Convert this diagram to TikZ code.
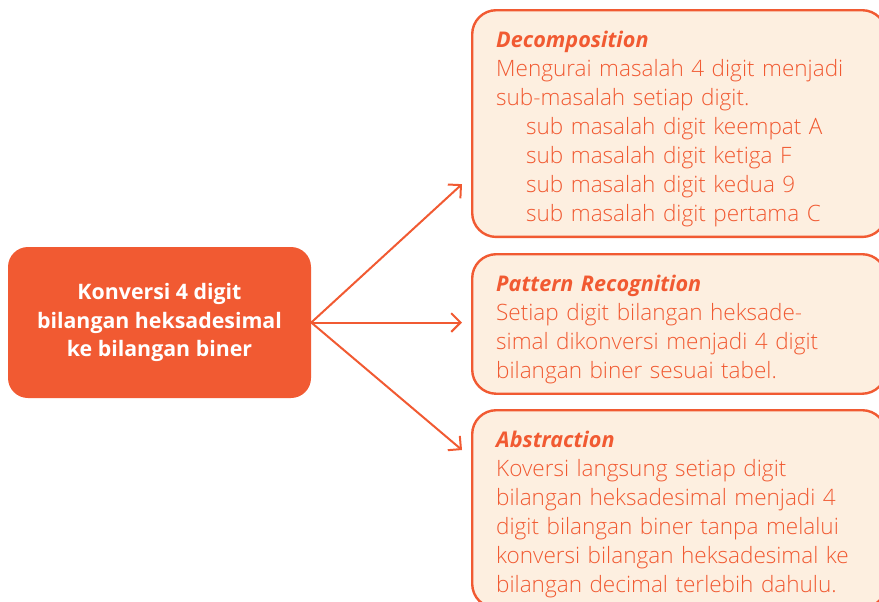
\documentclass[tikz,border=0pt]{standalone}
\usepackage{fontspec}
\setmainfont{Open Sans}
\IfFontExistsTF{Open Sans Light}
  {\newfontfamily\lightfont{Open Sans Light}}
  {\newcommand{\lightfont}{}}
\usepackage{tikz}
\usetikzlibrary{
  positioning,
  arrows.meta,
  calc
}
\definecolor{ctorange}{HTML}{F15A32}
\definecolor{ctpeach}{HTML}{FDEFE0}
\newcommand{\boxhead}[1]{\rule{0pt}{27.75pt}{\normalfont\fontsize{16.2}{21.8}\selectfont\bfseries\itshape #1}}
\newcommand{\boxend}{\rule[-11.5pt]{0pt}{11.5pt}}
\tikzset{
  x=0.75pt, y=0.75pt,
  >={Straight Barb[length=7pt,width=14pt]},
  topic/.style={fill=ctorange, text=white, rounded corners=15pt,
    minimum width=227.25pt, minimum height=113.25pt, align=center,
    font=\fontsize{16}{21.4}\selectfont\bfseries},
  infobox/.style={draw=ctorange, line width=1.8pt, fill=ctpeach,
    rounded corners=18pt, anchor=north west, text width=274.5pt,
    inner xsep=18pt, inner ysep=0pt, align=left,
    text=ctorange, font=\fontsize{16.9}{21.8}\selectfont\lightfont},
  link/.style={->, draw=ctorange, line width=1.5pt}
}

\begin{document}
\begin{tikzpicture}
  \clip (0,0) rectangle (879,-601);

  \node[topic] (konv) at (159.5,-322.5)
    {Konversi 4 digit\\bilangan heksadesimal\\ke bilangan biner};

  \node[infobox] (decomp) at (471,-9)
    {\boxhead{Decomposition}\\
     Mengurai masalah 4 digit menjadi\\
     sub-masalah setiap digit.\\
     \hspace*{22.5pt}sub masalah digit keempat A\\
     \hspace*{22.5pt}sub masalah digit ketiga F\\
     \hspace*{22.5pt}sub masalah digit kedua 9\\
     \hspace*{22.5pt}sub masalah digit pertama C\boxend};
  \node[infobox] (pattern) at (471,-253)
    {\boxhead{Pattern Recognition}\\
     Setiap digit bilangan heksade-\\
     simal dikonversi menjadi 4 digit\\
     bilangan biner sesuai tabel.\boxend};
  \node[infobox] (abstr) at (471,-409)
    {\boxhead{Abstraction}\\
     Koversi langsung setiap digit\\
     bilangan heksadesimal menjadi 4\\
     digit bilangan biner tanpa melalui\\
     konversi bilangan heksadesimal ke\\
     bilangan decimal terlebih dahulu.\boxend};

  \draw[link] (konv.east) -- ($(decomp.south west)+(-9,54)$);
  \draw[link] (konv.east) -- ($(pattern.west |- konv.east)+(-9,0)$);
  \draw[link] (konv.east) -- ($(abstr.north west)+(-9,-41)$);
\end{tikzpicture}
\end{document}
